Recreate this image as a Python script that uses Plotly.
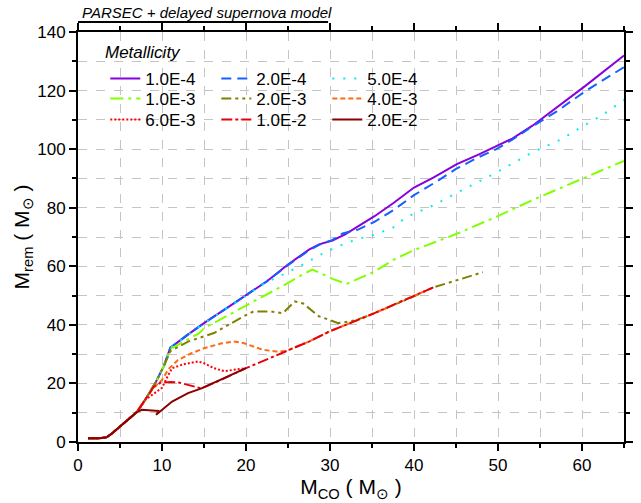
import plotly.graph_objects as go

# ---------------- data ----------------
names = ["1.0E-4", "2.0E-4", "5.0E-4", "1.0E-3", "2.0E-3", "4.0E-3", "6.0E-3", "1.0E-2", "2.0E-2"]

z1e4_x = [1.2, 2.5, 3.4, 4.0, 5.0, 6.0, 7.0, 8.0, 9.2, 10.2, 11.0, 13.0, 15.0, 17.75, 20.0, 22.5, 25.0, 27.5, 28.7, 30.3, 31.8, 33.4, 35.3, 37.6, 40.0, 42.3, 45.1, 47.8, 50.2, 51.7, 54.1, 56.7, 60.4, 65.0]
z1e4_y = [1.25, 1.25, 1.6, 2.8, 5.3, 7.7, 10.2, 14.4, 20.1, 25.8, 32.2, 36.5, 40.6, 45.8, 50.0, 54.9, 60.6, 65.7, 67.5, 68.8, 70.9, 73.7, 77.1, 81.7, 86.9, 90.3, 94.9, 98.3, 101.7, 103.6, 108.0, 113.5, 121.6, 132.0]

z2e4_x = [1.2, 2.5, 3.4, 4.0, 5.0, 6.0, 7.0, 8.0, 9.2, 10.2, 11.0, 13.0, 15.0, 17.75, 20.0, 22.5, 25.0, 27.5, 28.7, 30.3, 31.5, 33.4, 35.3, 37.6, 40.0, 42.5, 45.1, 47.5, 49.8, 51.7, 54.1, 57.0, 60.4, 65.0]
z2e4_y = [1.25, 1.25, 1.6, 2.8, 5.3, 7.7, 10.2, 14.4, 20.1, 25.8, 32.2, 36.5, 40.6, 45.8, 50.0, 54.9, 60.4, 65.4, 67.3, 69.0, 71.2, 72.6, 75.2, 79.3, 84.3, 88.6, 93.4, 97.0, 100.0, 103.2, 107.8, 112.9, 119.8, 128.0]

z5e4_x = [1.2, 2.5, 3.4, 4.0, 5.0, 6.0, 7.0, 8.0, 9.2, 10.2, 11.0, 15.0, 20.0, 22.5, 24.0, 26.4, 28.7, 31.0, 33.4, 35.0, 37.5, 38.5, 39.4, 42.3, 45.1, 49.4, 54.1, 57.7, 60.0, 62.3, 65.0]
z5e4_y = [1.25, 1.25, 1.6, 2.8, 5.3, 7.7, 10.2, 14.4, 20.1, 25.8, 32.2, 40.5, 49.9, 54.7, 56.6, 60.0, 63.7, 66.9, 69.4, 70.5, 73.2, 75.5, 77.2, 80.8, 85.1, 91.4, 98.9, 103.6, 107.7, 111.4, 116.8]

z1e3_x = [1.2, 2.5, 3.4, 4.0, 5.0, 6.0, 7.0, 8.0, 9.2, 10.2, 11.0, 14.4, 15.0, 20.0, 22.5, 24.7, 26.5, 27.9, 29.0, 30.3, 32.0, 34.1, 35.3, 37.6, 40.0, 45.1, 49.8, 54.1, 59.9, 65.0]
z1e3_y = [1.25, 1.25, 1.6, 2.8, 5.3, 7.7, 10.2, 14.4, 20.1, 25.8, 31.8, 37.1, 38.8, 46.6, 50.4, 53.8, 56.8, 58.9, 57.5, 55.7, 54.0, 56.6, 58.2, 62.3, 65.5, 71.1, 76.9, 82.6, 89.7, 96.0]

z2e3_x = [1.2, 2.5, 3.4, 4.0, 5.0, 6.0, 7.0, 8.0, 9.2, 10.2, 11.0, 13.1, 16.2, 19.7, 20.9, 22.8, 24.4, 25.8, 26.8, 28.7, 31.0, 33.0, 35.3, 40.0, 42.3, 45.3, 48.2]
z2e3_y = [1.25, 1.25, 1.6, 2.8, 5.3, 7.7, 10.2, 14.4, 20.1, 25.8, 31.0, 34.3, 37.2, 42.9, 44.6, 44.6, 44.0, 48.0, 47.3, 42.9, 40.6, 41.5, 44.0, 49.7, 52.8, 55.4, 58.0]

z4e3_x = [1.2, 2.5, 3.4, 4.0, 5.0, 6.0, 7.0, 8.0, 9.0, 10.0, 10.8, 11.9, 13.5, 15.0, 17.0, 18.5, 19.7, 21.0, 22.0, 23.6, 24.7, 27.5, 29.9, 35.3, 40.0, 42.3]
z4e3_y = [1.25, 1.25, 1.6, 2.8, 5.3, 7.7, 10.2, 14.4, 18.5, 21.2, 25.0, 28.0, 30.3, 32.0, 33.6, 34.3, 33.8, 32.5, 31.5, 30.9, 31.0, 34.3, 37.7, 44.0, 49.9, 52.8]

z6e3_x = [1.2, 2.5, 3.4, 4.0, 5.0, 6.0, 7.0, 8.0, 9.0, 10.0, 10.6, 11.2, 12.5, 14.3, 15.0, 16.2, 17.4, 19.3, 20.0]
z6e3_y = [1.25, 1.25, 1.6, 2.8, 5.3, 7.7, 10.2, 14.4, 16.5, 18.5, 22.0, 25.2, 26.5, 27.5, 26.9, 25.2, 24.2, 24.9, 25.2]

z1e2_x = [1.2, 2.5, 3.4, 4.0, 5.0, 6.0, 7.0, 8.0, 9.0, 9.8, 11.0, 12.0, 13.5, 14.7, 17.0, 20.0, 24.7, 27.5, 29.9, 35.3, 40.0, 42.3]
z1e2_y = [1.25, 1.25, 1.6, 2.8, 5.3, 7.7, 10.2, 14.4, 18.8, 20.2, 20.5, 20.3, 19.1, 18.3, 21.2, 25.2, 30.9, 34.3, 37.7, 44.0, 49.9, 52.8]

z2e2_x = [1.2, 2.5, 3.4, 4.0, 5.0, 6.0, 7.0, 7.6, 8.5, 9.65, 9.3, 10.2, 11.2, 13.1, 14.7, 17.0, 20.0]
z2e2_y = [1.25, 1.25, 1.6, 2.8, 5.3, 7.7, 10.2, 11.0, 10.9, 10.6, 9.3, 11.3, 13.8, 16.7, 18.3, 21.3, 25.2]

series_x = [z1e4_x, z2e4_x, z5e4_x, z1e3_x, z2e3_x, z4e3_x, z6e3_x, z1e2_x, z2e2_x]
series_y = [z1e4_y, z2e4_y, z5e4_y, z1e3_y, z2e3_y, z4e3_y, z6e3_y, z1e2_y, z2e2_y]

x_ticks = [0, 10, 20, 30, 40, 50, 60]
y_ticks = [0, 20, 40, 60, 80, 100, 120, 140]

# ---------------- styles ----------------
colors = ["#8800DD", "#1560FF", "#00EEEE", "#80FF00", "#808000", "#FF6A13", "#FF0000", "#E8000B", "#8B0000"]
dashes = ["solid", "10px,6px", "2px,9px", "13px,5px,3px,5px", "10px,4px,3px,4px,3px,4px",
          "5px,3px", "2px,2px", "11px,3px,3px,3px", "solid"]
legend_ids = ["legend", "legend2", "legend3"]   # one legend per row

FONT = "Liberation Sans, Arial, sans-serif"

fig = go.Figure()
for i, (nm, xs, ys) in enumerate(zip(names, series_x, series_y)):
    fig.add_trace(go.Scatter(
        x=xs, y=ys, mode="lines", name=nm,
        line=dict(color=colors[i], width=2, dash=dashes[i]),
        legend=legend_ids[i // 3],
    ))

axis_common = dict(
    showline=True, linecolor="black", linewidth=2, mirror="allticks",
    ticks="outside", ticklen=7, tickwidth=1.5, tickcolor="black",
    showgrid=True, gridcolor="#c4c4c4", griddash="dash", gridwidth=1,
    zeroline=False, tickfont=dict(family=FONT, size=17, color="black"),
)

fig.update_xaxes(
    range=[0, 65], tickvals=x_ticks,
    minor=dict(dtick=5, ticks="outside", ticklen=4, tickwidth=1.5, tickcolor="black",
               showgrid=True, gridcolor="#c4c4c4", griddash="dash", gridwidth=1),
    title=dict(text="M<sub>CO</sub> ( M<sub>⊙</sub> )", font=dict(family=FONT, size=21, color="black"), standoff=0),
    **axis_common,
)
fig.update_yaxes(
    range=[0, 140], tickvals=y_ticks,
    minor=dict(dtick=10, ticks="outside", ticklen=4, tickwidth=1.5, tickcolor="black",
               showgrid=True, gridcolor="#c4c4c4", griddash="dash", gridwidth=1),
    title=dict(text="M<sub>rem</sub> ( M<sub>⊙</sub> )", font=dict(family=FONT, size=21, color="black"), standoff=2),
    **axis_common,
)

leg_common = dict(
    orientation="h", xanchor="left", yanchor="middle", x=0.05,
    entrywidth=66, entrywidthmode="pixels",
    bgcolor="rgba(0,0,0,0)", borderwidth=0,
    font=dict(family=FONT, size=17, color="black"),
)
fig.update_layout(
    width=641, height=503,
    margin=dict(l=78, r=8, t=32, b=61),
    plot_bgcolor="white", paper_bgcolor="white",
    legend=dict(y=0.8854, **leg_common),
    legend2=dict(y=0.8366, **leg_common),
    legend3=dict(y=0.7854, **leg_common),
    showlegend=True,
)

fig.add_annotation(
    text="<i>Metallicity</i>", xref="paper", yref="paper", x=0.045, y=0.951,
    xanchor="left", yanchor="middle", showarrow=False,
    font=dict(family=FONT, size=17, color="black"),
)
fig.add_annotation(
    text="<i>PARSEC + delayed supernova model</i>", xref="paper", yref="paper",
    x=0.003, y=1.047, xanchor="left", yanchor="middle", showarrow=False,
    font=dict(family=FONT, size=15, color="black"),
)
fig.add_shape(type="line", xref="paper", yref="paper", x0=0, x1=0.458, y0=1.0244, y1=1.0244,
              line=dict(color="black", width=2))

fig.write_html("out.html", config={"displayModeBar": False},
               post_script="document.body.style.margin='0px';document.body.style.overflow='hidden';")
